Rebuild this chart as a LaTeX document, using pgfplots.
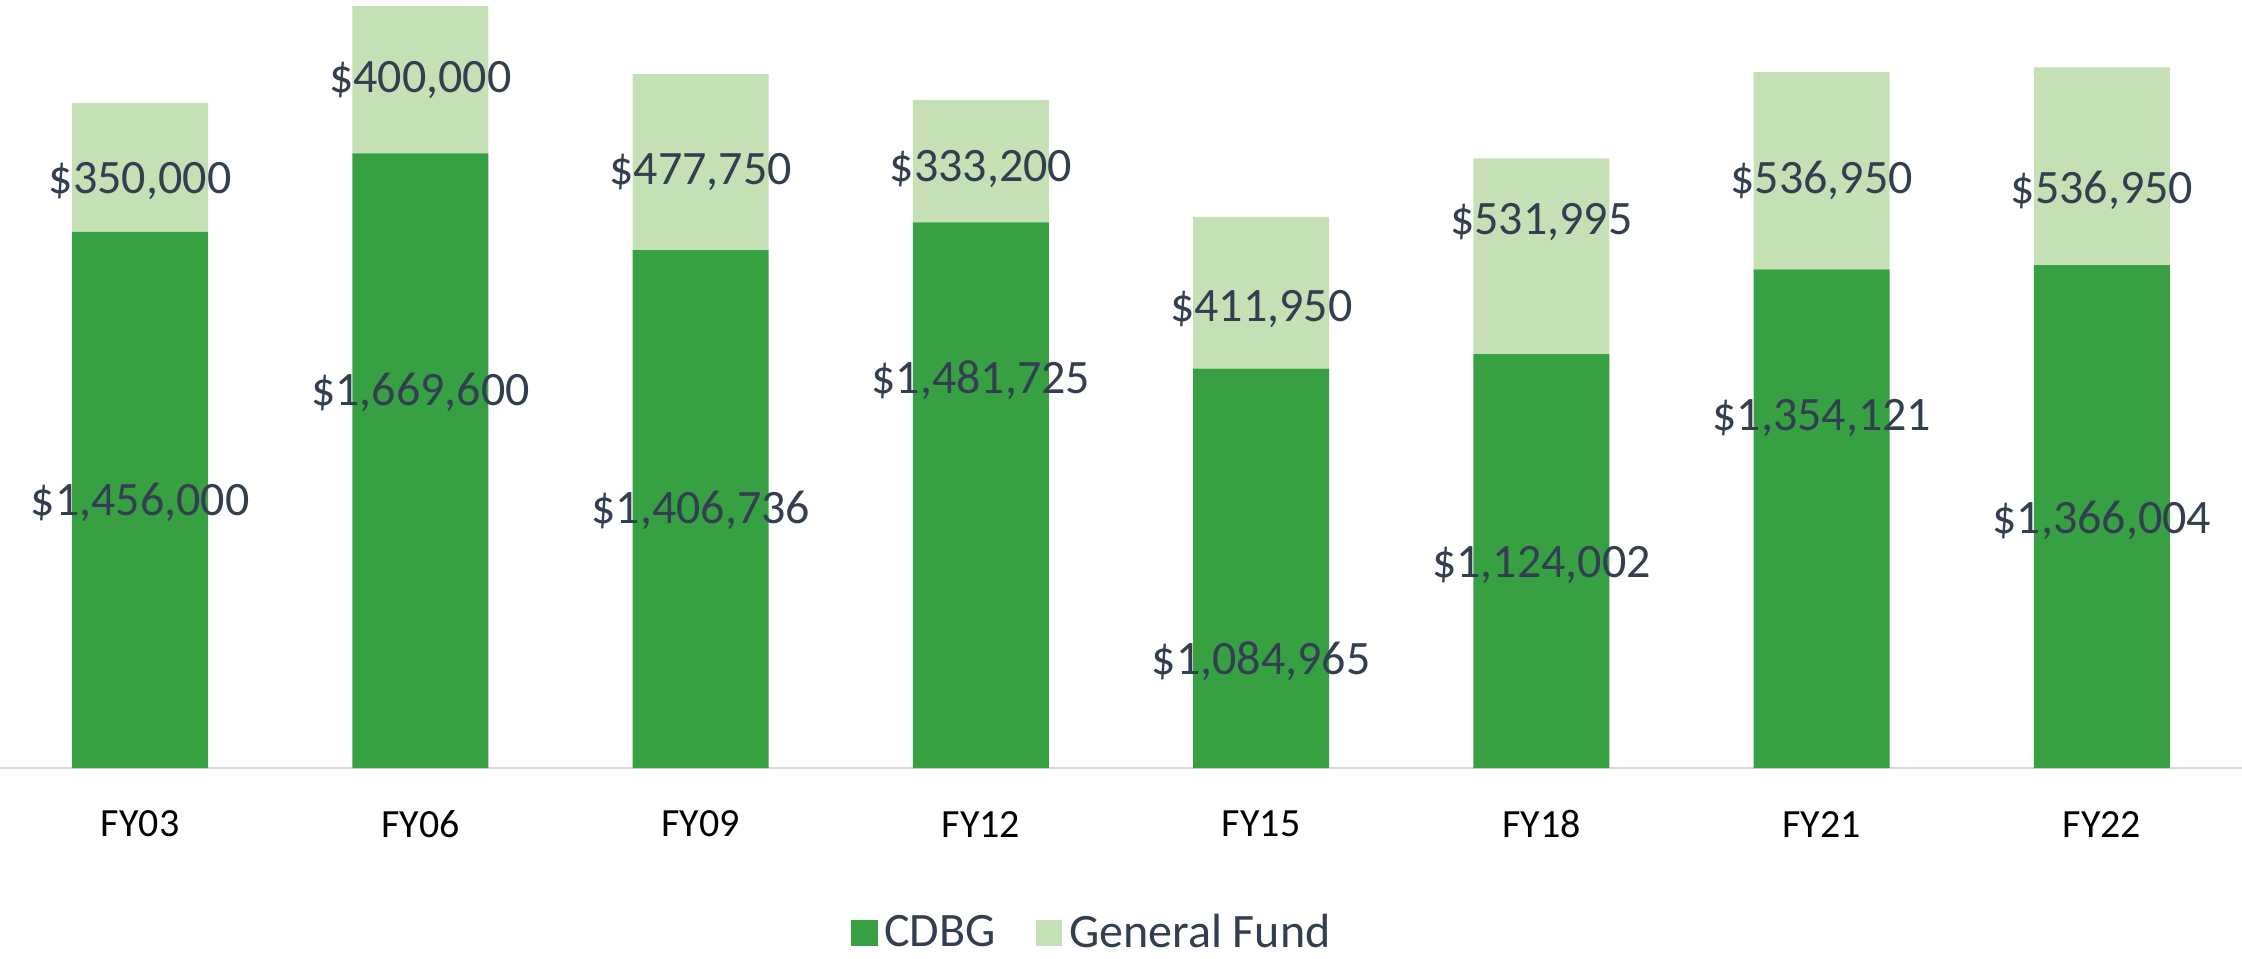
\documentclass[border=0pt]{standalone}
\usepackage{fontspec}
\setmainfont{Carlito}
\usepackage{pgfplots}
\pgfplotsset{compat=1.18}
\definecolor{cdbg}{HTML}{36A043}
\definecolor{gf}{HTML}{C5E0B4}
\definecolor{lbl}{HTML}{333F50}
\definecolor{axl}{HTML}{D9D9D9}
\begin{document}
\begin{tikzpicture}
\begin{axis}[
  scale only axis, width=672.6pt, height=230.4pt,
  xmin=-0.5, xmax=7.5, ymin=0, ymax=2086000,
  ybar stacked, bar width=40.8pt,
  axis x line=bottom, axis y line=none,
  axis line style={-, draw=axl, line width=0.6pt},
  xtick=data, xticklabels={FY03,FY06,FY09,FY12,FY15,FY18,FY21,FY22},
  major tick length=0pt,
  xticklabel style={font=\fontsize{12}{14}\selectfont, text=black, anchor=center, yshift=-16.8pt},
  clip=false,
  legend style={draw=none, fill=none, at={(0.488,-0.215)}, anchor=center, legend columns=2,
    font=\fontsize{14.4}{17}\selectfont, text=lbl,
    /tikz/every even column/.append style={column sep=10pt}},
  legend cell align=left,
]
\addplot[fill=cdbg, draw=none, legend image code/.code={\fill[cdbg] (0pt,-4pt) rectangle (8pt,4pt);}]
  coordinates {(0,1456000) (1,1669600) (2,1406736) (3,1481725) (4,1084965) (5,1124002) (6,1354121) (7,1366004)};
\addlegendentry{CDBG}
\addplot[fill=gf, draw=none, legend image code/.code={\fill[gf] (0pt,-4pt) rectangle (8pt,4pt);}]
  coordinates {(0,350000) (1,400000) (2,477750) (3,333200) (4,411950) (5,531995) (6,536950) (7,536950)};
\addlegendentry{General Fund}
\coordinate (G0) at (axis cs:0,1594000);
\coordinate (C0) at (axis cs:0,722000);
\coordinate (G1) at (axis cs:1,1868000);
\coordinate (C1) at (axis cs:1,1021000);
\coordinate (G2) at (axis cs:2,1620000);
\coordinate (C2) at (axis cs:2,699000);
\coordinate (G3) at (axis cs:3,1628000);
\coordinate (C3) at (axis cs:3,1053000);
\coordinate (G4) at (axis cs:4,1247000);
\coordinate (C4) at (axis cs:4,291000);
\coordinate (G5) at (axis cs:5,1484000);
\coordinate (C5) at (axis cs:5,552000);
\coordinate (G6) at (axis cs:6,1597000);
\coordinate (C6) at (axis cs:6,952000);
\coordinate (G7) at (axis cs:7,1570000);
\coordinate (C7) at (axis cs:7,672000);
\coordinate (BL) at (rel axis cs:0,0);
\coordinate (TR) at (rel axis cs:1,1);
\end{axis}
\tikzset{lab/.style={font=\fontsize{14.4}{17}\selectfont, text=lbl, anchor=center, inner sep=0pt}}
\node[lab] at (G0) {\$350,000};
\node[lab] at (C0) {\$1,456,000};
\node[lab] at (G1) {\$400,000};
\node[lab] at (C1) {\$1,669,600};
\node[lab] at (G2) {\$477,750};
\node[lab] at (C2) {\$1,406,736};
\node[lab] at (G3) {\$333,200};
\node[lab] at (C3) {\$1,481,725};
\node[lab] at (G4) {\$411,950};
\node[lab] at (C4) {\$1,084,965};
\node[lab] at (G5) {\$531,995};
\node[lab] at (C5) {\$1,124,002};
\node[lab] at (G6) {\$536,950};
\node[lab] at (C6) {\$1,354,121};
\node[lab] at (G7) {\$536,950};
\node[lab] at (C7) {\$1,366,004};
\pgfresetboundingbox
\path[use as bounding box] ([yshift=-57pt]BL) rectangle (TR);
\end{tikzpicture}
\end{document}
